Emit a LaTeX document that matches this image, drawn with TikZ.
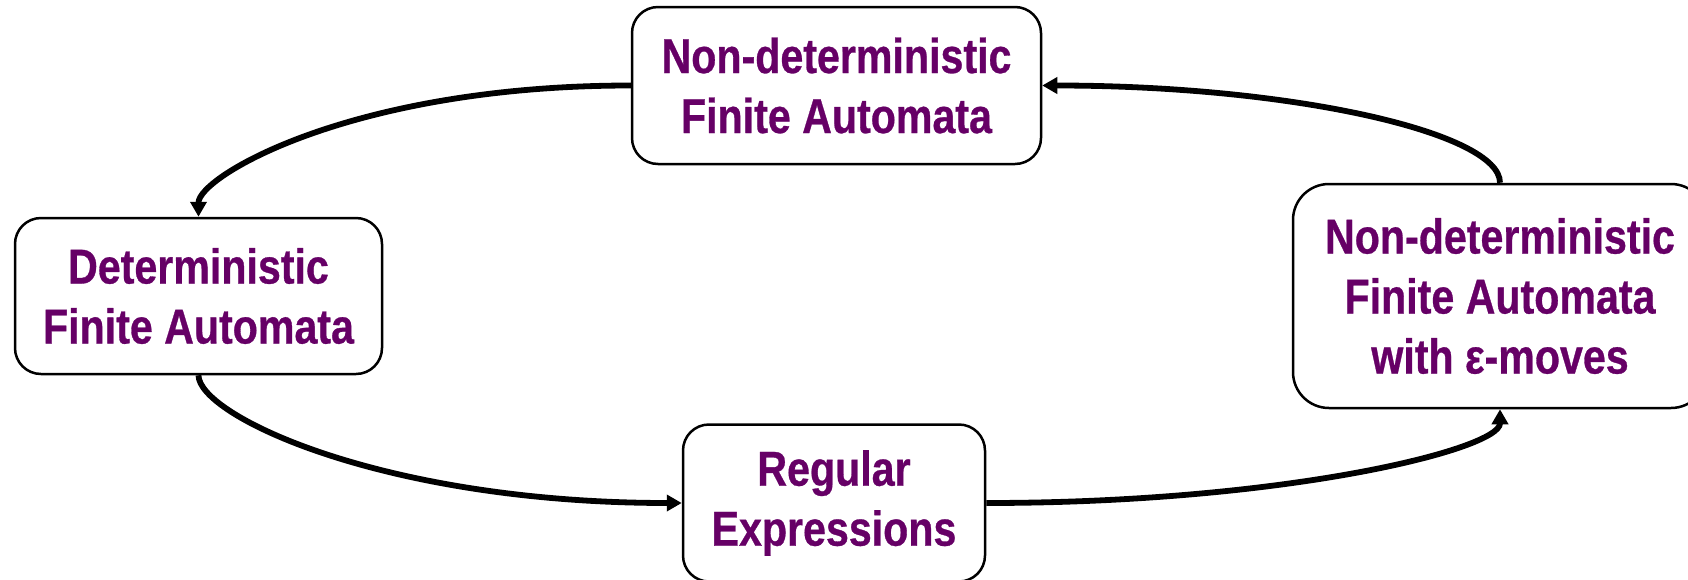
\documentclass[tikz,border=0pt]{standalone}
\usepackage{fontspec}
\newfontfamily\labfont{Liberation Sans}[FakeStretch=0.84,FakeBold=0.6]
\usetikzlibrary{arrows.meta}
\definecolor{labpurple}{RGB}{102,0,102}
\begin{document}
\begin{tikzpicture}[x=0.5pt,y=-0.5pt,
  box/.style={draw, line width=1.25pt, rounded corners=13pt, fill=white, align=center, inner sep=0pt,
    font=\labfont\bfseries\fontsize{24.5}{30}\selectfont, text=labpurple},
  conn/.style={line width=2.9pt, -{Triangle[length=7.5pt,width=8pt]}}]
\useasboundingbox (0,0) rectangle (1688,579);
\node[box, minimum width=204.5pt, minimum height=78.5pt] (nfa) at (836.5,85.5) {Non-deterministic\\Finite Automata};
\node[box, minimum width=183.5pt, minimum height=78pt] (dfa) at (198.5,296) {Deterministic\\Finite Automata};
\node[box, rounded corners=18pt, minimum width=207pt, minimum height=112pt] (enfa) at (1500,296) {Non-deterministic\\Finite Automata\\with ε-moves};
\node[box, minimum width=151pt, minimum height=78.5pt] (re) at (834,503) {Regular\\Expressions};
\draw[conn] (nfa.west) .. controls +(-280,0) and +(0,-40) .. (dfa.north);
\draw[conn] (dfa.south) .. controls +(0,40) and +(-300,0) .. (re.west);
\draw[conn] (re.east) .. controls +(300,0) and +(0,40) .. (enfa.south);
\draw[conn] (enfa.north) .. controls +(0,-50) and +(250,0) .. (nfa.east);
\end{tikzpicture}
\end{document}
